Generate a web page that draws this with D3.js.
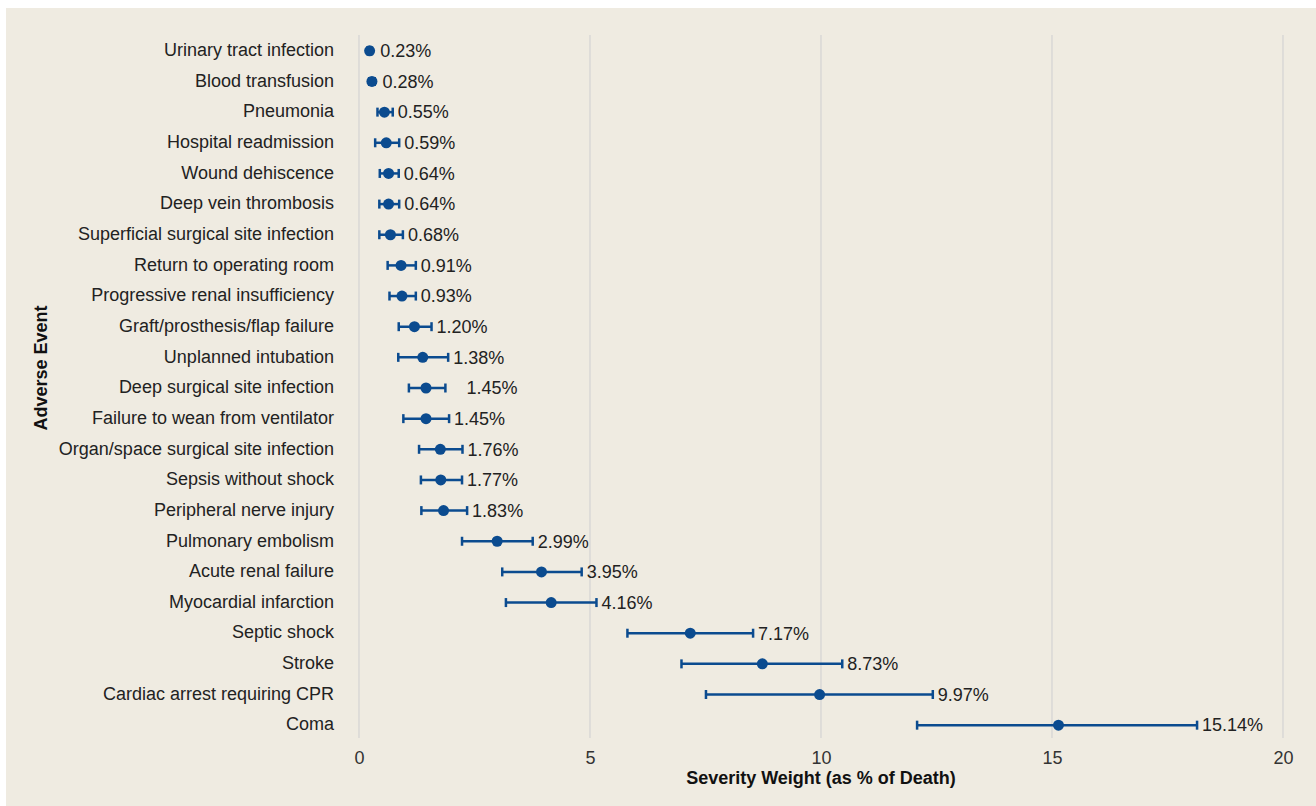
<!DOCTYPE html>
<html>
<head>
<meta charset="utf-8">
<script src="https://cdn.jsdelivr.net/npm/d3@7/dist/d3.min.js"></script>
<style>
  html, body { margin: 0; padding: 0; background: #ffffff; }
  svg { display: block; }
  text { font-family: "Liberation Sans", Arial, Helvetica, sans-serif; }
</style>
</head>
<body>
<svg id="chart" width="1316" height="806"></svg>
<script>
// ---- Data ----
const categories = [
  "Urinary tract infection", "Blood transfusion", "Pneumonia", "Hospital readmission",
  "Wound dehiscence", "Deep vein thrombosis", "Superficial surgical site infection",
  "Return to operating room", "Progressive renal insufficiency", "Graft/prosthesis/flap failure",
  "Unplanned intubation", "Deep surgical site infection", "Failure to wean from ventilator",
  "Organ/space surgical site infection", "Sepsis without shock", "Peripheral nerve injury",
  "Pulmonary embolism", "Acute renal failure", "Myocardial infarction", "Septic shock",
  "Stroke", "Cardiac arrest requiring CPR", "Coma"
];
const values = [0.23, 0.28, 0.55, 0.59, 0.64, 0.64, 0.68, 0.91, 0.93, 1.20, 1.38, 1.45, 1.45,
                1.76, 1.77, 1.83, 2.99, 3.95, 4.16, 7.17, 8.73, 9.97, 15.14];
const lower  = [0.18, 0.22, 0.40, 0.35, 0.45, 0.44, 0.44, 0.62, 0.66, 0.86, 0.85, 1.08, 0.96,
                1.30, 1.34, 1.35, 2.23, 3.10, 3.18, 5.81, 6.98, 7.51, 12.08];
const upper  = [0.28, 0.34, 0.73, 0.87, 0.86, 0.87, 0.95, 1.23, 1.23, 1.57, 1.93, 1.87, 1.95,
                2.24, 2.23, 2.34, 3.76, 4.82, 5.14, 8.53, 10.46, 12.42, 18.14];
const labels = ["0.23%", "0.28%", "0.55%", "0.59%", "0.64%", "0.64%", "0.68%", "0.91%", "0.93%",
                "1.20%", "1.38%", "1.45%", "1.45%", "1.76%", "1.77%", "1.83%", "2.99%", "3.95%",
                "4.16%", "7.17%", "8.73%", "9.97%", "15.14%"];
const xTicks = [0, 5, 10, 15, 20];
const xTitle = "Severity Weight (as % of Death)";
const yTitle = "Adverse Event";

// ---- Layout / style ----
const W = 1316, H = 806;
const margin = { left: 359, right: 33, top: 35, bottom: 66 };
const blue = "#0b4b8f";
const fs = 18;
const labelExtra = { "Deep surgical site infection": 16 };

const svg = d3.select("#chart");
svg.append("rect").attr("x", 6).attr("y", 8).attr("width", W - 6).attr("height", H - 8)
  .attr("fill", "#efebe1");

const x = d3.scaleLinear().domain([0, 20]).range([margin.left, W - margin.right]);
const y = d3.scaleBand().domain(categories).range([margin.top, H - margin.bottom]).padding(0);

// gridlines
svg.append("g").selectAll("line").data(xTicks).join("line")
  .attr("x1", d => x(d)).attr("x2", d => x(d))
  .attr("y1", margin.top).attr("y2", H - margin.bottom - 2)
  .attr("stroke", "#d3d3d3").attr("stroke-width", 1.2);

// x axis
const xAxis = svg.append("g").attr("transform", `translate(0,${H - margin.bottom})`)
  .call(d3.axisBottom(x).tickValues(xTicks).tickSize(0).tickPadding(11).tickFormat(d3.format("d")));
xAxis.select(".domain").remove();
xAxis.selectAll("text").attr("font-size", fs).attr("fill", "#333")
  .style("font-family", '"Liberation Sans", Arial, sans-serif');

// y axis
const yAxis = svg.append("g").attr("transform", `translate(${margin.left},0)`)
  .call(d3.axisLeft(y).tickSize(0).tickPadding(25));
yAxis.select(".domain").remove();
yAxis.selectAll("text").attr("font-size", fs).attr("fill", "#222")
  .style("font-family", '"Liberation Sans", Arial, sans-serif');

// titles
svg.append("text").attr("x", (x(0) + x(20)) / 2).attr("y", 784)
  .attr("text-anchor", "middle").attr("font-size", fs).attr("font-weight", "bold")
  .attr("fill", "#111").text(xTitle);
svg.append("text").attr("transform", `translate(47,368) rotate(-90)`)
  .attr("text-anchor", "middle").attr("font-size", fs).attr("font-weight", "bold")
  .attr("fill", "#111").text(yTitle);

// marks
const rows = categories.map((c, i) => ({ c, v: values[i], lo: lower[i], hi: upper[i], lab: labels[i] }));
const g = svg.append("g");
const cy = d => y(d.c) + y.bandwidth() / 2 + 0.5;
g.selectAll("line.err").data(rows).join("line").attr("class", "err")
  .attr("x1", d => x(d.lo)).attr("x2", d => x(d.hi))
  .attr("y1", cy).attr("y2", cy)
  .attr("stroke", blue).attr("stroke-width", 2.5);
g.selectAll("line.capl").data(rows).join("line").attr("class", "capl")
  .attr("x1", d => x(d.lo)).attr("x2", d => x(d.lo))
  .attr("y1", d => cy(d) - 4.5).attr("y2", d => cy(d) + 4.5)
  .attr("stroke", blue).attr("stroke-width", 2.5);
g.selectAll("line.caph").data(rows).join("line").attr("class", "caph")
  .attr("x1", d => x(d.hi)).attr("x2", d => x(d.hi))
  .attr("y1", d => cy(d) - 4.5).attr("y2", d => cy(d) + 4.5)
  .attr("stroke", blue).attr("stroke-width", 2.5);
g.selectAll("circle").data(rows).join("circle")
  .attr("cx", d => x(d.v)).attr("cy", cy).attr("r", 5.5).attr("fill", blue);
g.selectAll("text.val").data(rows).join("text").attr("class", "val")
  .attr("x", d => Math.max(x(d.hi), x(d.v) + 5.5) + 5 + (labelExtra[d.c] || 0))
  .attr("y", cy).attr("dy", "0.35em")
  .attr("font-size", fs).attr("fill", "#222").text(d => d.lab);
</script>
</body>
</html>
